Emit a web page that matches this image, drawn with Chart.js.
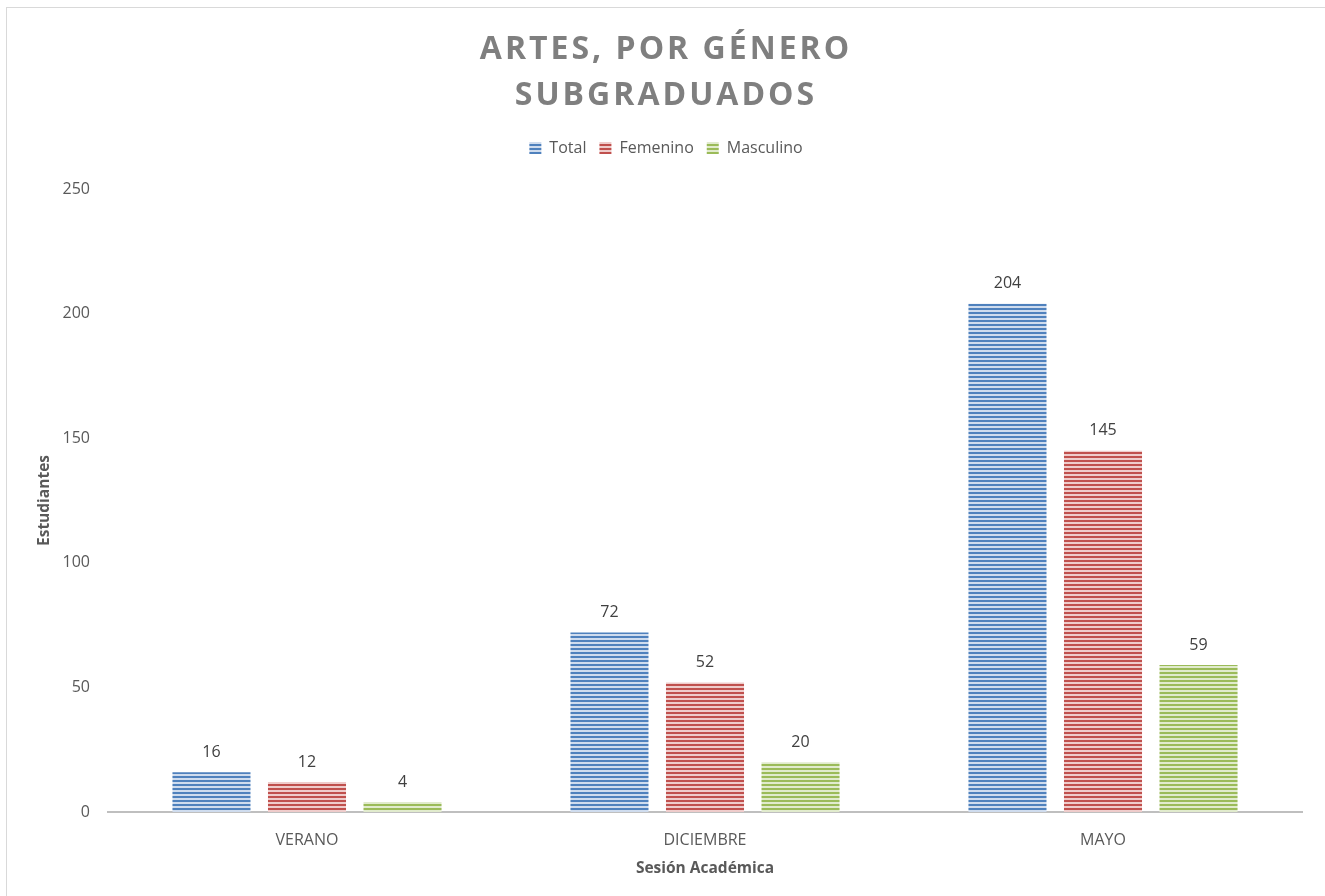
<!DOCTYPE html>
<html lang="es">
<head>
  <meta charset="UTF-8">
  <title>Artes, por género - Subgraduados</title>
  <script src="https://cdn.jsdelivr.net/npm/chart.js@4.4.0/dist/chart.umd.min.js"></script>
  <style>
    html, body {
      margin: 0;
      padding: 0;
      background: #ffffff;
      overflow: hidden;
    }

    /* marco gris del gráfico */
    .marco {
      position: absolute;
      left: 6px;
      top: 7px;
      width: 1400px;
      height: 1000px;
      border: 1px solid #d9d9d9;
    }

    #grafico {
      position: absolute;
      left: 0;
      top: 0;
    }
  </style>
</head>
<body>
  <div class="marco"></div>
  <canvas id="grafico" width="1325" height="896"></canvas>

  <script>
    // Datos
    const sesiones = ['VERANO', 'DICIEMBRE', 'MAYO'];
    const total = [16, 72, 204];
    const femenino = [12, 52, 145];
    const masculino = [4, 20, 59];
    const marcasY = [0, 50, 100, 150, 200, 250];

    const lienzo = document.getElementById('grafico');
    const ctx = lienzo.getContext('2d');

    // Relleno con rayas horizontales
    function rayas(oscuro, claro) {
      const c = document.createElement('canvas');
      c.width = 4;
      c.height = 4;
      const g = c.getContext('2d');
      g.fillStyle = claro;
      g.fillRect(0, 0, 4, 4);
      g.fillStyle = oscuro;
      g.fillRect(0, 0, 4, 2);
      return ctx.createPattern(c, 'repeat');
    }

    // Valores encima de cada barra
    const etiquetas = {
      id: 'etiquetas',
      afterDatasetsDraw(chart) {
        const c = chart.ctx;
        c.save();
        c.font = '16px "Open Sans"';
        c.fillStyle = '#404040';
        c.textAlign = 'center';
        c.textBaseline = 'middle';
        chart.data.datasets.forEach((ds, i) => {
          chart.getDatasetMeta(i).data.forEach((barra, j) => {
            c.fillText(ds.data[j], barra.x, barra.y - 20);
          });
        });
        c.restore();
      }
    };

    // Espaciado de letras del título y aire bajo la leyenda
    const ajustes = {
      id: 'ajustes',
      beforeLayout(chart) {
        const titulo = chart.titleBlock;
        if (titulo && !titulo._espaciado) {
          const dibujar = titulo.draw;
          titulo.draw = function (area) {
            this.ctx.save();
            this.ctx.letterSpacing = '3px';
            dibujar.call(this, area);
            this.ctx.restore();
          };
          titulo._espaciado = true;
        }
        const leyenda = chart.legend;
        if (leyenda && !leyenda._aire) {
          const medir = leyenda.fit;
          leyenda.fit = function () {
            medir.call(this);
            this.height += 23;
          };
          leyenda._aire = true;
        }
      }
    };

    Chart.defaults.font.family = '"Open Sans", sans-serif';

    new Chart(ctx, {
      type: 'bar',
      data: {
        labels: sesiones,
        datasets: [
          { label: 'Total', data: total, backgroundColor: rayas('#4f81bd', '#cfdcee') },
          { label: 'Femenino', data: femenino, backgroundColor: rayas('#c0504d', '#efcccb') },
          { label: 'Masculino', data: masculino, backgroundColor: rayas('#9bbb59', '#e1ebcd') }
        ]
      },
      options: {
        responsive: false,
        animation: false,
        categoryPercentage: 0.72,
        barPercentage: 0.817,
        layout: {
          padding: { top: 0, right: 23, bottom: 0, left: 30 }
        },
        plugins: {
          title: {
            display: true,
            text: ['ARTES, POR GÉNERO', 'SUBGRADUADOS'],
            color: '#7f7f7f',
            font: { size: 32, weight: 'bold', lineHeight: '46px' },
            padding: { top: 27, bottom: 8 }
          },
          legend: {
            position: 'top',
            labels: {
              color: '#595959',
              font: { size: 16 },
              boxWidth: 12,
              boxHeight: 12,
              padding: 13
            }
          },
          tooltip: { enabled: false }
        },
        scales: {
          x: {
            grid: { display: false, drawTicks: false },
            border: { display: true, color: '#bfbfbf', width: 2 },
            ticks: { color: '#595959', font: { size: 16 }, padding: 19 },
            title: {
              display: true,
              text: 'Sesión Académica',
              color: '#595959',
              font: { size: 15.5, weight: 'bold' },
              padding: { top: 0, bottom: 18 }
            },
            afterFit(s) { s.height = 84; }
          },
          y: {
            min: 0,
            max: 250,
            afterBuildTicks(s) { s.ticks = marcasY.map(v => ({ value: v })); },
            grid: { display: false, drawTicks: false },
            border: { display: false },
            ticks: { color: '#595959', font: { size: 16 }, padding: 18 },
            title: {
              display: true,
              text: 'Estudiantes',
              color: '#595959',
              font: { size: 15.5, weight: 'bold' },
              padding: { top: 5, bottom: 0 }
            },
            afterFit(s) { s.width = 78; }
          }
        }
      },
      plugins: [etiquetas, ajustes]
    });
  </script>
</body>
</html>
